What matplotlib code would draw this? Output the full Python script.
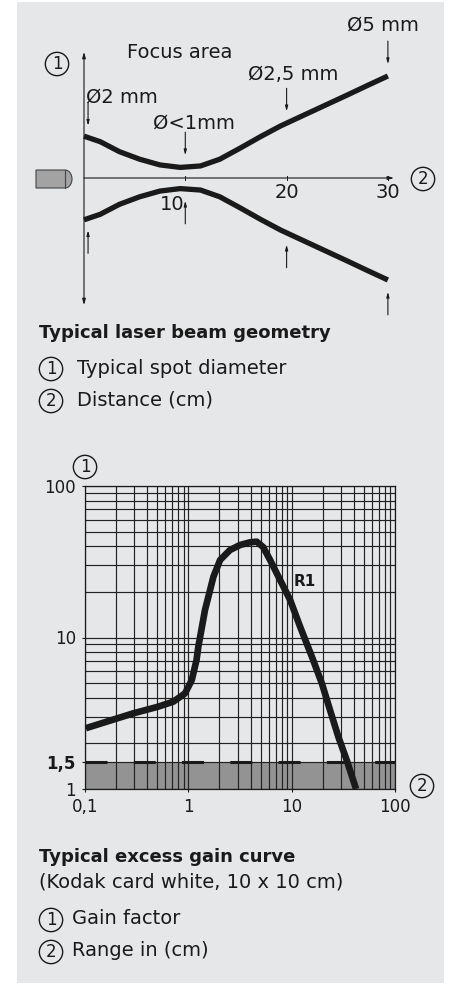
import numpy as np
import matplotlib
matplotlib.use('Agg')
import matplotlib.pyplot as plt
from matplotlib.patches import Rectangle, Polygon

plt.rcParams['font.family'] = ['DejaVu Sans']

W, H = 453, 984

# laser beam geometry: distance (cm) and spot diameter (mm)
beam_dist = [0, 1.6, 3.5, 5.5, 7.5, 9.5, 11.5, 13.4, 15.4, 17.4, 19.4, 22, 24, 26, 28, 30]
beam_diam = [2.05, 1.78, 1.29, 0.92, 0.64, 0.52, 0.59, 0.92, 1.46, 2.02, 2.55, 3.15, 3.61,
             4.07, 4.54, 5.0]
dist_ticks = [10, 20, 30]
spot_at = [0.4, 10, 20, 30]
spot_labels = ['Ø2 mm', 'Ø<1mm', 'Ø2,5 mm', 'Ø5 mm']

# excess gain curve R1
gain_range = [0.102, 0.294, 0.5, 0.716, 0.93, 1.08, 1.2, 1.25, 1.45, 1.75, 2.03, 2.53,
              3.17, 3.95, 4.59, 5.3, 6.18, 7.72, 9.66, 12.06, 15.7, 19.6, 23.5, 28.3,
              34.1, 42]
gain_factor = [2.52, 3.16, 3.48, 3.77, 4.28, 5.24, 7.1, 8.7, 15.2, 25.2, 32.5, 37.8,
               40.8, 42.5, 42.9, 39.5, 32.5, 24.0, 17.7, 11.8, 7.46, 4.98, 3.32, 2.21,
               1.55, 1.0]
range_ticks = [0.1, 1, 10, 100]
range_labels = ['0,1', '1', '10', '100']
gain_ticks = [1, 1.5, 10, 100]
gain_labels = ['1', '1,5', '10', '100']
threshold = 1.5

PANEL = '#e6e7e9'
INK = '#1a1a1a'
FS = 14
FSB = 13


def fpos(px, py):
    return px / W, 1 - py / H


def label(px, py, s, **kw):
    kw.setdefault('color', INK)
    kw.setdefault('va', 'center')
    return fig.text(*fpos(px, py), s, **kw)


def circled(px, py, digit):
    # digit inside a thin ring, like the numbered callouts of the data sheet
    return label(px, py + 1, digit, fontsize=12, ha='center',
                 bbox=dict(boxstyle='circle,pad=0.16', fc='none', ec=INK, lw=1.0))


fig = plt.figure(figsize=(W / 100, H / 100), dpi=100, facecolor='white')
fig.patches.append(Rectangle(fpos(17, 983), 427 / W, 981 / H, transform=fig.transFigure,
                             facecolor=PANEL, edgecolor='none', zorder=-10))

# ---- top: beam geometry ----
X0, XS, Y0, YS = 84, 10.13, 178, 20.4
ax1 = fig.add_axes([17 / W, 1 - 320 / H, 427 / W, 318 / H])
ax1.set_xlim((17 - X0) / XS, (444 - X0) / XS)
ax1.set_ylim((Y0 - 320) / YS, (Y0 - 2) / YS)
ax1.axis('off')

d = np.array(beam_diam)
for sign in (1, -1):
    ax1.plot(beam_dist, sign * d, color=INK, lw=3.8, solid_capstyle='butt',
             solid_joinstyle='round')

thin = dict(color=INK, lw=0.8, shrinkA=0, shrinkB=0)
ax1.annotate('', xy=(0, 6.18), xytext=(0, -6.23),
             arrowprops=dict(arrowstyle='<|-|>,head_length=0.35,head_width=0.1', **thin))
ax1.annotate('', xy=(30.6, 0), xytext=(0, 0),
             arrowprops=dict(arrowstyle='-|>,head_length=0.35,head_width=0.1', **thin))
for t in dist_ticks:
    ax1.plot([t, t], [-0.12, 0.12], color=INK, lw=0.7)

spot_d = np.interp(spot_at, beam_dist, beam_diam)
for x, dd in zip(spot_at, spot_d):
    for sign in (1, -1):
        tip = sign * (dd + 0.58)
        ax1.annotate('', xy=(x, tip), xytext=(x, tip + sign * 1.13),
                     arrowprops=dict(arrowstyle='-|>,head_length=0.3,head_width=0.08', **thin))

# sensor icon
arc = np.linspace(-np.pi / 2, np.pi / 2, 30)
pts = ([(36, 170), (65, 170)] + [(65 + 7 * np.cos(a), 179 + 9 * np.sin(a)) for a in arc]
       + [(65, 188), (36, 188)])
fig.patches.append(Polygon([fpos(*p) for p in pts], closed=True, transform=fig.transFigure,
                           facecolor='#a3a3a3', edgecolor='#444444', lw=0.8))
fig.lines.append(plt.Line2D([65 / W, 65 / W], [fpos(0, 170)[1], fpos(0, 188)[1]],
                            transform=fig.transFigure, color='#444444', lw=0.8))

circled(57, 63, '1')
label(127, 53, 'Focus area', fontsize=FS)
label(86, 97, spot_labels[0], fontsize=FS)
label(153, 123, spot_labels[1], fontsize=FS)
label(248, 75, spot_labels[2], fontsize=FS)
label(347, 25, spot_labels[3], fontsize=FS)
label(172, 205, '10', fontsize=FS, ha='center')
label(287, 192, '20', fontsize=FS, ha='center')
label(388, 192, '30', fontsize=FS, ha='center')
circled(423, 178, '2')

label(39, 333, 'Typical laser beam geometry', fontsize=FSB, weight='bold')
circled(51, 368, '1')
label(77, 368, 'Typical spot diameter', fontsize=FS)
circled(51, 400, '2')
label(77, 400, 'Distance (cm)', fontsize=FS)

# ---- bottom: excess gain ----
ax2 = fig.add_axes([85 / W, 1 - 789 / H, 310 / W, 303 / H])
ax2.set_facecolor('none')
ax2.set_xscale('log')
ax2.set_yscale('log')
ax2.set_xlim(range_ticks[0], range_ticks[-1])
ax2.set_ylim(gain_ticks[0], gain_ticks[-1])
ax2.set_axisbelow(True)
ax2.grid(True, which='both', color='#222222', lw=0.85)
ax2.axhspan(gain_ticks[0], threshold, color='#939393', lw=0, zorder=0.2)
ax2.axhline(threshold, color=INK, lw=2.2, dashes=(7.2, 8.6), zorder=2)
ax2.plot(gain_range, gain_factor, color=INK, lw=4.8, solid_capstyle='butt',
         solid_joinstyle='round', zorder=3, clip_on=False)
for sp in ax2.spines.values():
    sp.set_color(INK)
    sp.set_linewidth(0.9)
ax2.set_xticks(range_ticks, range_labels)
ax2.set_yticks(gain_ticks, gain_labels)
ax2.tick_params(which='minor', length=0)
ax2.tick_params(which='major', length=2.5, width=0.8, color=INK, labelsize=12,
                labelcolor=INK, pad=4)
ax2.get_yticklabels()[1].set_fontweight('bold')
circled(85, 466, '1')
circled(422, 785, '2')
label(305, 582, 'R1', fontsize=11, ha='center', weight='bold')

label(39, 857, 'Typical excess gain curve', fontsize=FSB, weight='bold')
label(39, 882, '(Kodak card white, 10 x 10 cm)', fontsize=FS)
circled(51, 919, '1')
label(72, 919, 'Gain factor', fontsize=FS)
circled(51, 951, '2')
label(72, 951, 'Range in (cm)', fontsize=FS)

fig.savefig('out.png', dpi=100, facecolor='white')
